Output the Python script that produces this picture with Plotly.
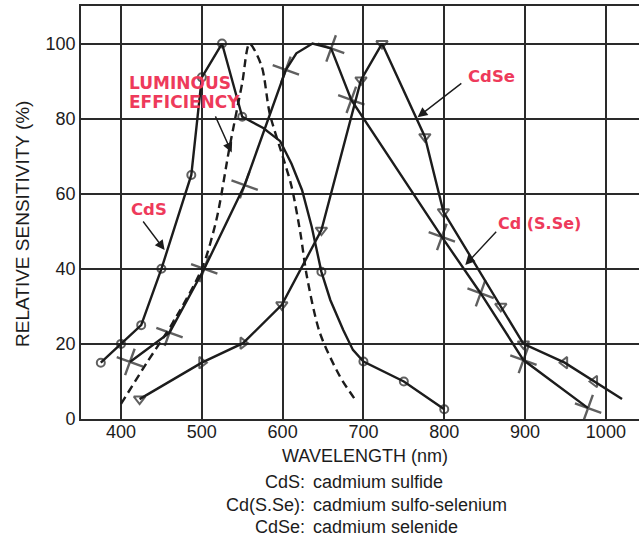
import plotly.graph_objects as go

# ---------------- data ----------------
cds_x = [375, 400, 425, 450, 487, 500, 525, 550, 576, 597, 611, 624, 636, 648, 659, 675, 687, 700, 750, 800]
cds_y = [15, 20, 25, 40, 65, 91, 100, 80.5, 77.5, 74, 68, 61, 51.2, 39.2, 31.7, 23.7, 18.4, 15.3, 10, 2.6]
cds_mark = [1, 1, 1, 1, 1, 1, 1, 1, 0, 0, 0, 0, 0, 1, 0, 0, 0, 1, 1, 1]

lum_x = [400, 432, 464, 500, 518, 534, 550, 559, 574, 584, 600, 611, 622, 630, 646, 671, 692]
lum_y = [4, 15, 25.6, 40, 53, 72, 89.5, 100, 94, 81.4, 70, 62, 49.5, 38, 23, 11.3, 4.5]

cdsse_x = [411, 460, 503, 553, 604, 617, 637, 660, 685, 797, 845, 898, 978]
cdsse_y = [15.2, 23, 40, 62.3, 93, 97.4, 100, 98.7, 85, 48.5, 33.5, 15.7, 2.9]
cdsse_mark = [1, 1, 1, 1, 1, 0, 0, 1, 1, 1, 1, 1, 1]

cdse_x = [423, 500, 551, 599, 648, 697, 723, 776, 799, 870, 898, 949, 986, 1020]
cdse_y = [5.3, 15, 20.2, 30.4, 50.3, 90.3, 100, 75.2, 55.2, 30, 20, 15, 10, 5.3]
cdse_sym = ["triangle-down-open", "triangle-right-open", "triangle-right-open",
            "triangle-down-open", "triangle-down-open", "triangle-down-open",
            "triangle-down-open", "triangle-down-open", "triangle-down-open",
            "triangle-down-open", "triangle-down-open", "triangle-left-open",
            "triangle-left-open", "triangle-down-open"]
cdse_mark = [1, 1, 1, 1, 1, 1, 1, 1, 1, 1, 1, 1, 1, 0]

x_ticks = [400, 500, 600, 700, 800, 900, 1000]
y_ticks = [0, 20, 40, 60, 80, 100]

legend_names = ["CdS:", "Cd(S.Se):", "CdSe:"]
legend_desc = ["cadmium sulfide", "cadmium sulfo-selenium", "cadmium selenide"]

# ---------------- figure ----------------
INK = "#1c1c1c"
RED = "#EE3A5B"
FONT = "Liberation Sans, Arial, sans-serif"
BOLD = "DejaVu Sans, Arial, sans-serif"

fig = go.Figure()

fig.add_trace(go.Scatter(
    x=lum_x, y=lum_y, mode="lines",
    line=dict(color=INK, width=2.4, dash="8px,5px", shape="spline", smoothing=0.8),
    hoverinfo="skip"))

fig.add_trace(go.Scatter(
    x=cds_x, y=cds_y, mode="lines+markers",
    line=dict(color=INK, width=2.4, shape="linear"),
    marker=dict(symbol="circle-open", size=[8 * m for m in cds_mark], color=INK,
                line=dict(width=2, color=INK)),
    hoverinfo="skip"))

fig.add_trace(go.Scatter(
    x=cdsse_x, y=cdsse_y, mode="lines+markers",
    line=dict(color=INK, width=2.4),
    marker=dict(symbol="cross-thin", size=[20 * m for m in cdsse_mark], color=INK, angle=20,
                line=dict(width=2.4, color=INK)),
    hoverinfo="skip"))

fig.add_trace(go.Scatter(
    x=cdse_x, y=cdse_y, mode="lines+markers",
    line=dict(color=INK, width=2.4),
    marker=dict(symbol=cdse_sym, size=[10 * m for m in cdse_mark], color=INK,
                line=dict(width=2, color=INK)),
    hoverinfo="skip"))

ann = []
# red labels
for txt, x, y, s in [("LUMINOUS", 408, 89.5, 17), ("EFFICIENCY", 408, 84.3, 17),
                     ("CdS", 410, 55.7, 16.5), ("CdSe", 827, 91.3, 16.5),
                     ("Cd (S.Se)", 864, 52.2, 16)]:
    ann.append(dict(x=x, y=y, xref="x", yref="y", text=txt, showarrow=False,
                    xanchor="left", yanchor="middle",
                    font=dict(family=BOLD, size=s, color=RED, weight="bold")))
# arrows
for (tx, ty), (hx, hy) in [((516, 81), (537, 71)), ((426, 53), (454, 45)),
                           ((823, 89.7), (767, 80.4)), ((866, 50.3), (826, 41))]:
    ann.append(dict(x=hx, y=hy, ax=tx, ay=ty, xref="x", yref="y", axref="x", ayref="y",
                    text="", showarrow=True, arrowhead=2, arrowsize=1.4, arrowwidth=1.4,
                    arrowcolor=INK))

# axis titles
ann.append(dict(x=0.509, y=-0.0896, xref="paper", yref="paper", text="WAVELENGTH (nm)",
                showarrow=False, xanchor="center", yanchor="middle",
                font=dict(family=FONT, size=18, color=INK)))
ann.append(dict(x=-0.106, y=0.472, xref="paper", yref="paper", text="RELATIVE SENSITIVITY (%)",
                showarrow=False, textangle=-90, xanchor="center", yanchor="middle",
                font=dict(family=FONT, size=19, color=INK)))

# bottom key
for i, (n, d) in enumerate(zip(legend_names, legend_desc)):
    py = 482 + 22.5 * i
    yp = (419 - py) / 413
    ann.append(dict(x=0.405, y=yp, xref="paper", yref="paper", text=n, showarrow=False,
                    xanchor="right", yanchor="middle",
                    font=dict(family=FONT, size=18, color=INK)))
    ann.append(dict(x=0.412, y=yp, xref="paper", yref="paper", text=d, showarrow=False,
                    xanchor="left", yanchor="middle",
                    font=dict(family=FONT, size=18, color=INK)))

fig.update_layout(
    width=639, height=537,
    margin=dict(l=81, r=0, t=6, b=118),
    paper_bgcolor="white", plot_bgcolor="white",
    showlegend=False,
    hovermode=False,
    annotations=ann,
    font=dict(family=FONT, size=18, color=INK),
    xaxis=dict(range=[350.5, 1041], tickvals=x_ticks, showgrid=True, gridcolor="#2a2a2a",
               gridwidth=1.6, showline=True, linecolor="#2a2a2a", linewidth=1.6, mirror=True,
               zeroline=False, ticks="", ticklabelstandoff=-4,
               tickfont=dict(size=18, family=FONT, color=INK)),
    yaxis=dict(range=[0, 110], tickvals=y_ticks, showgrid=True, gridcolor="#2a2a2a",
               gridwidth=1.6, showline=True, linecolor="#2a2a2a", linewidth=1.6,
               zeroline=False, ticks="", tickfont=dict(size=18, family=FONT, color=INK)),
)

fig.write_html("out.html", config={"displayModeBar": False},
               post_script="document.body.style.margin='0';document.body.style.overflow='hidden';")
